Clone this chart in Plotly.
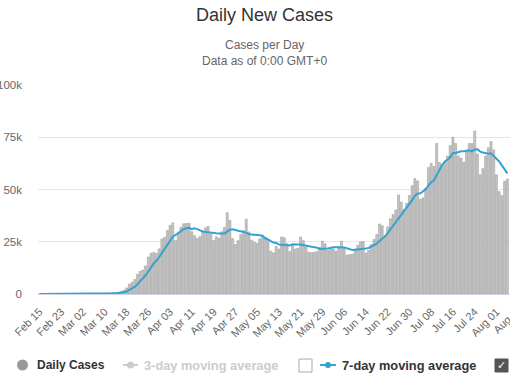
import pandas as pd
import plotly.graph_objects as go

# ---------------- data ----------------
START_DATE = "2020-02-15"

DAILY_CASES = [
    # Feb 15 - Feb 29
    0, 0, 0, 0, 0, 0, 1, 0, 0, 18, 0, 2, 1, 1, 4,
    # Mar
    8, 23, 21, 31, 70, 68, 100, 120, 180, 300,
    400, 500, 700, 650, 800, 1200, 1800, 2900, 4700, 5600,
    6900, 9400, 10800, 11500, 13400, 17700, 19500, 19900, 19400, 21600,
    26300,
    # Apr
    27100, 30300, 32800, 34000, 25500, 29000, 31900, 33600, 33800, 33800,
    29800, 27900, 26600, 27400, 30100, 31700, 32400, 28700, 25600, 27400,
    26700, 29800, 31900, 38900, 35300, 26500, 23700, 25500, 28400, 30300,
    # May
    35800, 29700, 25800, 24800, 24200, 26400, 28100, 27300, 26100, 20500,
    19700, 22800, 21500, 27300, 26900, 24100, 20300, 23600, 21500, 21900,
    27300, 25500, 22400, 20000, 19800, 20000, 20300, 22400, 25300, 24000,
    20800,
    # Jun
    22300, 21500, 20500, 22700, 25300, 22400, 18600, 18900, 19000, 21500,
    23300, 25000, 25100, 19600, 20800, 23700, 26100, 28400, 33500, 32700,
    27700, 32100, 36000, 38000, 40200, 47400, 44000, 40500, 43400, 47200,
    # Jul
    51800, 55200, 54100, 45300, 46000, 50700, 60500, 62500, 61000, 72000,
    63000, 62000, 63000, 66000, 71000, 75000, 72000, 66000, 65000, 63000,
    68000, 72000, 72000, 78000, 67000, 57000, 60000, 66000, 70000, 73000,
    69000,
    # Aug 1 - Aug 5
    57000, 49000, 47000, 54000, 55000,
]

AVG_7DAY = [
    # Feb 15 - Feb 29
    0, 0, 0, 0, 0, 0, 0, 0, 0, 3, 3, 3, 3, 3, 4,
    # Mar
    5, 6, 9, 13, 23, 32, 46, 62, 84, 124,
    177, 238, 329, 407, 504, 650, 864, 1221, 1821, 2521,
    3414, 4643, 6014, 7400, 8900, 10757, 12743, 14600, 16029, 17571,
    19686,
    # Apr
    21643, 23443, 25343, 27357, 28229, 29286, 30086, 31014, 31514, 31657,
    31057, 31400, 31057, 30414, 29914, 29614, 29414, 29257, 28929, 29043,
    28943, 28900, 28929, 29857, 30800, 30929, 30400, 30229, 30029, 29800,
    # May
    29357, 28557, 28457, 28614, 28429, 28143, 27829, 26614, 26100, 25343,
    24614, 24414, 23714, 23600, 23543, 23257, 23229, 23786, 23600, 23657,
    23657, 23457, 23214, 23171, 22629, 22414, 22186, 21486, 21457, 21686,
    21800,
    # Jun
    22157, 22371, 22400, 22443, 22443, 22214, 21900, 21414, 21057, 21200,
    21286, 21243, 21629, 21771, 22043, 22714, 23371, 24100, 25314, 26400,
    27557, 29171, 30929, 32629, 34314, 36300, 37914, 39743, 41357, 42957,
    # Jul
    44929, 47071, 48029, 48214, 49000, 50043, 51943, 53471, 54300, 56857,
    59386, 61671, 63429, 64214, 65429, 67429, 67429, 67857, 68286, 68286,
    68571, 68714, 68286, 69143, 69286, 68143, 67714, 67429, 67143, 67286,
    66000,
    # Aug 1 - Aug 5
    64571, 63429, 61571, 59857, 57714,
]

TICK_LABELS = ["Feb 15", "Feb 23", "Mar 02", "Mar 10", "Mar 18", "Mar 26",
               "Apr 03", "Apr 11", "Apr 19", "Apr 27", "May 05", "May 13",
               "May 21", "May 29", "Jun 06", "Jun 14", "Jun 22", "Jun 30",
               "Jul 08", "Jul 16", "Jul 24", "Aug 01"]
CUT_TICK_LABEL = "Aug 09"   # next tick, only partly visible at the right edge

Y_TICKS = [0, 25000, 50000, 75000, 100000]
Y_TICK_LABELS = ["0", "25k", "50k", "75k", "100k"]

# ---------------- layout helpers ----------------
W, H = 510, 382
PL, PR, PT, PB = 38, 0, 85, 88
PLOT_W = W - PL - PR
PLOT_H = H - PT - PB
PX_PER_DAY = 2.72
FONT = "Liberation Sans, Arial, sans-serif"


def fx(px):
    return (px - PL) / PLOT_W


def fy(py):
    return (H - PB - py) / PLOT_H


dates = pd.date_range(START_DATE, periods=len(DAILY_CASES), freq="D")
tick_dates = pd.date_range(START_DATE, periods=len(TICK_LABELS), freq="8D")
x_start = pd.Timestamp(START_DATE) - pd.Timedelta(days=0.55)
x_end = x_start + pd.Timedelta(days=PLOT_W / PX_PER_DAY)

fig = go.Figure()
fig.add_trace(go.Bar(
    x=dates, y=DAILY_CASES, name="Daily Cases",
    marker=dict(color="#c4c4c4", line=dict(color="#969696", width=0.5)),
))
fig.add_trace(go.Scatter(
    x=dates, y=AVG_7DAY, name="7-day moving average", mode="lines",
    line=dict(color="#33a3d1", width=2),
))

shapes = []
annotations = []

# titles
annotations.append(dict(text="Daily New Cases", x=fx(264), y=fy(15), xref="paper", yref="paper",
                        showarrow=False, xanchor="center", yanchor="middle",
                        font=dict(family=FONT, size=18, color="#333333")))
annotations.append(dict(text="Cases per Day", x=fx(264), y=fy(45), xref="paper", yref="paper",
                        showarrow=False, xanchor="center", yanchor="middle",
                        font=dict(family=FONT, size=12, color="#666666")))
annotations.append(dict(text="Data as of 0:00 GMT+0", x=fx(264), y=fy(61), xref="paper", yref="paper",
                        showarrow=False, xanchor="center", yanchor="middle",
                        font=dict(family=FONT, size=12, color="#666666")))

# partly visible last x tick label (clipped by the right edge, as in the reference)
annotations.append(dict(text=CUT_TICK_LABEL, x=fx(507.5), y=fy(319), xref="paper", yref="paper",
                        showarrow=False, xanchor="center", yanchor="middle", textangle=-45,
                        font=dict(family=FONT, size=11, color="#666666")))

# legend (drawn manually)
LY = 365
shapes.append(dict(type="circle", xref="paper", yref="paper",
                   x0=fx(17), x1=fx(28), y0=fy(LY + 5.5), y1=fy(LY - 5.5),
                   fillcolor="#999999", line=dict(width=0)))
annotations.append(dict(text="<b>Daily Cases</b>", x=fx(35), y=fy(LY), xref="paper", yref="paper",
                        showarrow=False, xanchor="left", yanchor="middle",
                        font=dict(family=FONT, size=12, color="#333333")))
shapes.append(dict(type="line", xref="paper", yref="paper",
                   x0=fx(123), x1=fx(138), y0=fy(LY), y1=fy(LY),
                   line=dict(color="#cccccc", width=2)))
shapes.append(dict(type="circle", xref="paper", yref="paper",
                   x0=fx(127), x1=fx(134), y0=fy(LY + 3.5), y1=fy(LY - 3.5),
                   fillcolor="#cccccc", line=dict(width=0)))
annotations.append(dict(text="<b>3-day moving average</b>", x=fx(142), y=fy(LY), xref="paper", yref="paper",
                        showarrow=False, xanchor="left", yanchor="middle",
                        font=dict(family=FONT, size=12.8, color="#cccccc")))
shapes.append(dict(type="rect", xref="paper", yref="paper",
                   x0=fx(299), x1=fx(312), y0=fy(LY + 7), y1=fy(LY - 6),
                   fillcolor="#ffffff", line=dict(color="#aaaaaa", width=1)))
shapes.append(dict(type="line", xref="paper", yref="paper",
                   x0=fx(320), x1=fx(336), y0=fy(LY), y1=fy(LY),
                   line=dict(color="#33a3d1", width=2)))
shapes.append(dict(type="circle", xref="paper", yref="paper",
                   x0=fx(325), x1=fx(331), y0=fy(LY + 3), y1=fy(LY - 3),
                   fillcolor="#33a3d1", line=dict(width=0)))
annotations.append(dict(text="<b>7-day moving average</b>", x=fx(340), y=fy(LY), xref="paper", yref="paper",
                        showarrow=False, xanchor="left", yanchor="middle",
                        font=dict(family=FONT, size=12.8, color="#333333")))
shapes.append(dict(type="rect", xref="paper", yref="paper",
                   x0=fx(495), x1=fx(508), y0=fy(LY + 7), y1=fy(LY - 6),
                   fillcolor="#555555", line=dict(color="#555555", width=1)))
annotations.append(dict(text="<b>✓</b>", x=fx(501.5), y=fy(LY + 0.5), xref="paper", yref="paper",
                        showarrow=False, xanchor="center", yanchor="middle",
                        font=dict(family="DejaVu Sans", size=11, color="#ffffff")))

fig.update_layout(
    template="none",
    width=W, height=H,
    margin=dict(l=PL, r=PR, t=PT, b=PB, pad=0),
    paper_bgcolor="#ffffff", plot_bgcolor="#ffffff",
    showlegend=False,
    bargap=0.25,
    font=dict(family=FONT, size=11, color="#666666"),
    shapes=shapes,
    annotations=annotations,
    xaxis=dict(
        type="date", range=[x_start, x_end],
        tickmode="array", tickvals=tick_dates, ticktext=TICK_LABELS,
        tickangle=-45, tickfont=dict(family=FONT, size=11, color="#666666"),
        showgrid=False, zeroline=False,
        showline=True, linecolor="#ccd6eb", linewidth=1,
        ticks="", ticklabelstandoff=6, automargin=False,
    ),
    yaxis=dict(
        range=[0, 100000], tickmode="array", tickvals=Y_TICKS, ticktext=Y_TICK_LABELS,
        tickfont=dict(family=FONT, size=11.5, color="#666666"),
        showgrid=True, gridcolor="#e6e6e6", gridwidth=1,
        zeroline=False, showline=False, ticks="",
        ticklabelstandoff=15, automargin=False,
    ),
)

fig.write_html(
    "out.html",
    config={"displayModeBar": False},
    post_script="document.body.style.margin='0';document.body.style.overflow='hidden';",
)
